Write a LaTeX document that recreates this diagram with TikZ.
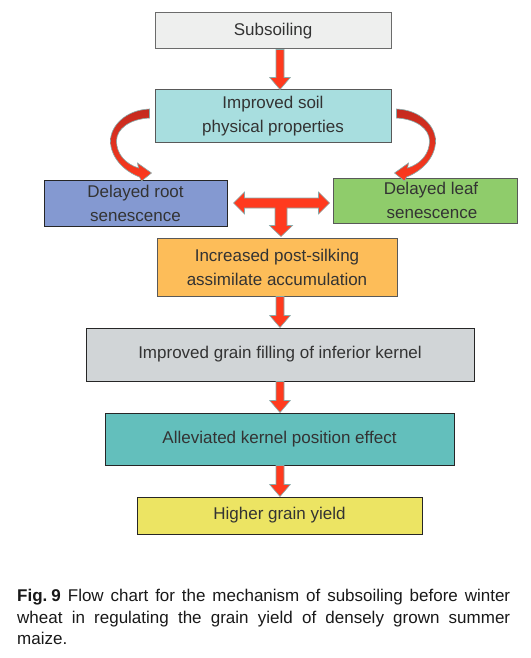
\documentclass[tikz,border=0pt]{standalone}
\usepackage{fontspec}
\setmainfont{Liberation Sans}
\usetikzlibrary{calc}
\definecolor{subfill}{HTML}{EEEFEE}
\definecolor{soilfill}{HTML}{A8DEDF}
\definecolor{rootfill}{HTML}{8499D1}
\definecolor{leaffill}{HTML}{8FCC6B}
\definecolor{incrfill}{HTML}{FDBD59}
\definecolor{grainfill}{HTML}{D1D5D7}
\definecolor{allevfill}{HTML}{63BFBC}
\definecolor{yieldfill}{HTML}{ECE463}
\definecolor{arrred}{HTML}{FF3A1E}
\definecolor{arrdark}{HTML}{C42A1F}
\definecolor{arroutline}{HTML}{86ABAB}
\definecolor{txt}{HTML}{333333}
\tikzset{
  box/.style={draw=#1, line width=1pt, rectangle, inner sep=0pt, align=center,
    text=txt, font=\fontsize{17}{24}\selectfont},
  redarrow/.style={fill=arrred, draw=arroutline, line width=0.6pt, line join=miter},
  curvearrow/.style={top color=arrdark, bottom color=arrred, draw=arroutline, line width=0.6pt}
}
\newcommand\vArrow[3]{%
  \path[redarrow] let \p1=(#1.south), \p2=(#2.north), \p3=(#3,0) in
    (\x3-4pt,\y1) -- (\x3-4pt,\y2+12pt) -- (\x3-10.3pt,\y2+12pt) -- (\x3,\y2)
    -- (\x3+10.3pt,\y2+12pt) -- (\x3+4pt,\y2+12pt) -- (\x3+4pt,\y1) -- cycle;}
\newcommand\curvedArrowShape{%
  \path[curvearrow] (-5,-7) .. controls (-29,-6) and (-44,10) .. (-44,25)
    .. controls (-44,41) and (-31,55) .. (-15,61)
    -- (-13,65) -- (-3,57) -- (-17,47) -- (-16,52)
    .. controls (-29,48) and (-38,38) .. (-38,25)
    .. controls (-38,13) and (-25,3) .. (-5,2) -- cycle;}
\begin{document}
\begin{tikzpicture}[x=1pt,y=-1pt]
\useasboundingbox[fill=white] (0,0) rectangle (530,658);
% boxes
\node[box=black!58, fill=subfill, minimum width=236pt, minimum height=36pt] (sub) at (273,31) {Subsoiling};
\node[box=black!65, fill=soilfill, minimum width=236pt, minimum height=52pt] (soil) at (273,116) {Improved soil\\physical properties};
\node[box=black!85, fill=rootfill, minimum width=183pt, minimum height=46pt] (root) at (135.5,203) {Delayed root\\senescence};
\node[box=black!65, fill=leaffill, minimum width=184pt, minimum height=45pt] (leaf) at (425,200.5) {\hspace*{12pt}Delayed leaf\\\hspace*{14pt}senescence};
\node[box=black!65, fill=incrfill, minimum width=240pt, minimum height=58pt] (incr) at (277,267) {Increased post-silking\\assimilate accumulation};
\node[box=black!85, fill=grainfill, minimum width=388pt, minimum height=53pt] (grain) at (280,354.5) {Improved grain filling of inferior kernel};
\node[box=black!85, fill=allevfill, minimum width=349pt, minimum height=52pt] (allev) at (279.5,439) {Alleviated kernel position effect};
\node[box=black!85, fill=yieldfill, minimum width=285pt, minimum height=37pt] (yield) at (279.5,515.5) {Higher grain yield};
% straight arrows
\vArrow{sub}{soil}{280}
\vArrow{incr}{grain}{280}
\vArrow{grain}{allev}{280}
\vArrow{allev}{yield}{280}
% curved arrows
\begin{scope}[shift={(soil.west)}]
  \curvedArrowShape
\end{scope}
\begin{scope}[shift={(soil.east)}, xscale=-1]
  \curvedArrowShape
\end{scope}
% T arrow
\coordinate (tL) at ([xshift=6pt]root.east);
\coordinate (tR) at ($(tL -| leaf.west)+(-3,0)$);
\coordinate (tB) at ($(incr.north -| 281,0)+(0,-1)$);
\path[redarrow] let \p1=(tL), \p2=(tR), \p3=(tB) in
  (\x1,\y1) -- (\x1+11pt,\y1+11pt) -- (\x1+11pt,\y1+5pt) -- (\x2-11pt,\y1+5pt)
  -- (\x2-11pt,\y1+11pt) -- (\x2,\y1) -- (\x2-11pt,\y1-11pt) -- (\x2-11pt,\y1-5pt)
  -- (\x3+6pt,\y1-5pt) -- (\x3+6pt,\y3+11pt) -- (\x3+11.5pt,\y3+11pt) -- (\x3,\y3)
  -- (\x3-11.5pt,\y3+11pt) -- (\x3-6pt,\y3+11pt) -- (\x3-6pt,\y1-5pt)
  -- (\x1+11pt,\y1-5pt) -- (\x1+11pt,\y1-11pt) -- cycle;
% caption
\node[anchor=north west, text width=493pt, align=justify, inner sep=0pt,
  font=\fontsize{17}{21.5}\selectfont, text=black!90] (cap) at (17,589)
  {\mbox{\textbf{Fig.\kern4pt 9}}\hspace{7pt}Flow chart for the mechanism of subsoiling before winter\linebreak
   wheat in regulating the grain yield of densely grown summer\linebreak maize.};
\end{tikzpicture}
\end{document}
